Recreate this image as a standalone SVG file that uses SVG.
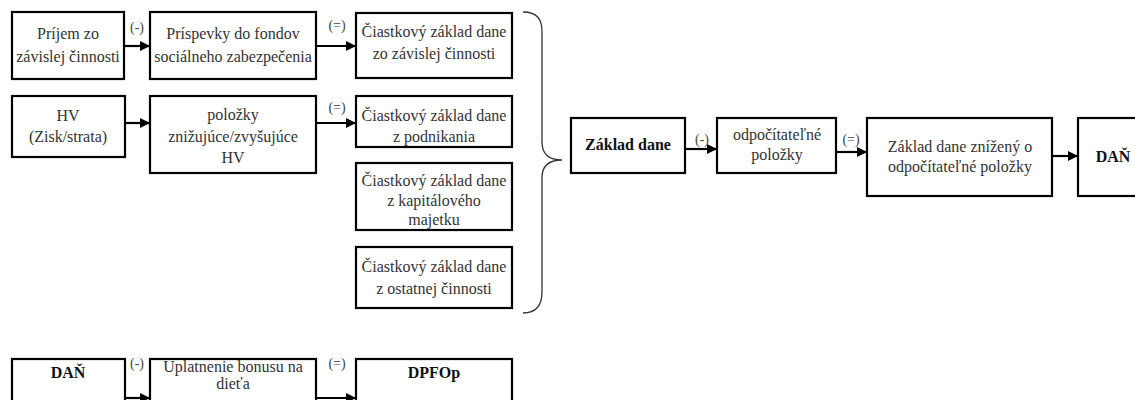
<svg xmlns="http://www.w3.org/2000/svg" width="1135" height="400" viewBox="0 0 1135 400" font-family="Liberation Serif">
<style>
.box{fill:#fff;stroke:#000;stroke-width:2.2}
text{font-family:"Liberation Serif",serif;text-anchor:middle}
.t{font-size:16px;fill:#333}
.b{font-size:16px;font-weight:bold;fill:#111}
.l{font-size:14px;fill:#444}
.c{stroke:#000;stroke-width:2.2;fill:none;marker-end:url(#ah)}
</style>
<defs>
<marker id="ah" markerUnits="userSpaceOnUse" markerWidth="10" markerHeight="10" viewBox="0 0 10 10" refX="10" refY="5" orient="auto">
<path d="M0,0 L10,5 L0,10 Z" fill="#000"/>
</marker>
</defs>
<rect width="1135" height="400" fill="#fff"/>
<g id="connectors">
<line class="c" x1="124" y1="46" x2="150" y2="46"/>
<line class="c" x1="316" y1="46" x2="356" y2="46"/>
<line class="c" x1="125" y1="123" x2="150" y2="123"/>
<line class="c" x1="316" y1="123" x2="356" y2="123"/>
<line class="c" x1="685" y1="149" x2="717" y2="149"/>
<line class="c" x1="836" y1="152" x2="867" y2="152"/>
<line class="c" x1="1052" y1="156" x2="1078" y2="156"/>
<line class="c" x1="125" y1="398" x2="150" y2="398"/>
<line class="c" x1="316" y1="398" x2="356" y2="398"/>
<path d="M523,12 C538,12 542,20 542,32 L542,142 C542,154 548,160 562,160 C548,160 542,166 542,178 L542,292 C542,304 538,313 523,313" fill="none" stroke="#333" stroke-width="1.3"/>
<text class="l" x="137" y="32">(-)</text>
<text class="l" x="337" y="30">(=)</text>
<text class="l" x="337" y="112">(=)</text>
<text class="l" x="702" y="144">(-)</text>
<text class="l" x="851" y="144">(=)</text>
<text class="l" x="137" y="368">(-)</text>
<text class="l" x="337" y="368">(=)</text>
</g>
<g id="n1"><rect class="box" x="12" y="12" width="112" height="67"/><text class="t" x="68" y="39">Príjem zo</text><text class="t" x="68" y="62">závislej činnosti</text></g>
<g id="n2"><rect class="box" x="150" y="12" width="166" height="67"/><text class="t" x="233" y="39">Príspevky do fondov</text><text class="t" x="233" y="62">sociálneho zabezpečenia</text></g>
<g id="n3"><rect class="box" x="356" y="13" width="156" height="65"/><text class="t" x="434" y="37">Čiastkový základ dane</text><text class="t" x="434" y="59">zo závislej činnosti</text></g>
<g id="n4"><rect class="box" x="12" y="96" width="113" height="61"/><text class="t" x="68" y="121">HV</text><text class="t" x="68" y="142">(Zisk/strata)</text></g>
<g id="n5"><rect class="box" x="150" y="96" width="166" height="77"/><text class="t" x="233" y="120">položky</text><text class="t" x="233" y="142">znižujúce/zvyšujúce</text><text class="t" x="233" y="163">HV</text></g>
<g id="n6"><rect class="box" x="356" y="96" width="156" height="51"/><text class="t" x="434" y="121">Čiastkový základ dane</text><text class="t" x="434" y="142">z podnikania</text></g>
<g id="n7"><rect class="box" x="356" y="163" width="156" height="67"/><text class="t" x="434" y="186">Čiastkový základ dane</text><text class="t" x="434" y="206">z kapitálového</text><text class="t" x="434" y="225">majetku</text></g>
<g id="n8"><rect class="box" x="356" y="247" width="156" height="61"/><text class="t" x="434" y="272">Čiastkový základ dane</text><text class="t" x="434" y="294">z ostatnej činnosti</text></g>
<g id="n9"><rect class="box" x="571" y="118" width="114" height="55"/><text class="b" x="628" y="150">Základ dane</text></g>
<g id="n10"><rect class="box" x="717" y="118" width="119" height="55"/><text class="t" x="777" y="140">odpočítateľné</text><text class="t" x="777" y="160">položky</text></g>
<g id="n11"><rect class="box" x="867" y="118" width="185" height="78"/><text class="t" x="960" y="152">Základ dane znížený o</text><text class="t" x="960" y="172">odpočítateľné položky</text></g>
<g id="n12"><rect class="box" x="1078" y="118" width="70" height="78"/><text class="b" x="1113" y="162">DAŇ</text></g>
<g id="n13"><rect class="box" x="12" y="359" width="113" height="60"/><text class="b" x="68" y="378">DAŇ</text></g>
<g id="n14"><rect class="box" x="150" y="359" width="166" height="60"/><text class="t" x="233" y="372">Uplatnenie bonusu na</text><text class="t" x="233" y="389">dieťa</text></g>
<g id="n15"><rect class="box" x="356" y="359" width="156" height="60"/><text class="b" x="434" y="378">DPFOp</text></g>
</svg>
